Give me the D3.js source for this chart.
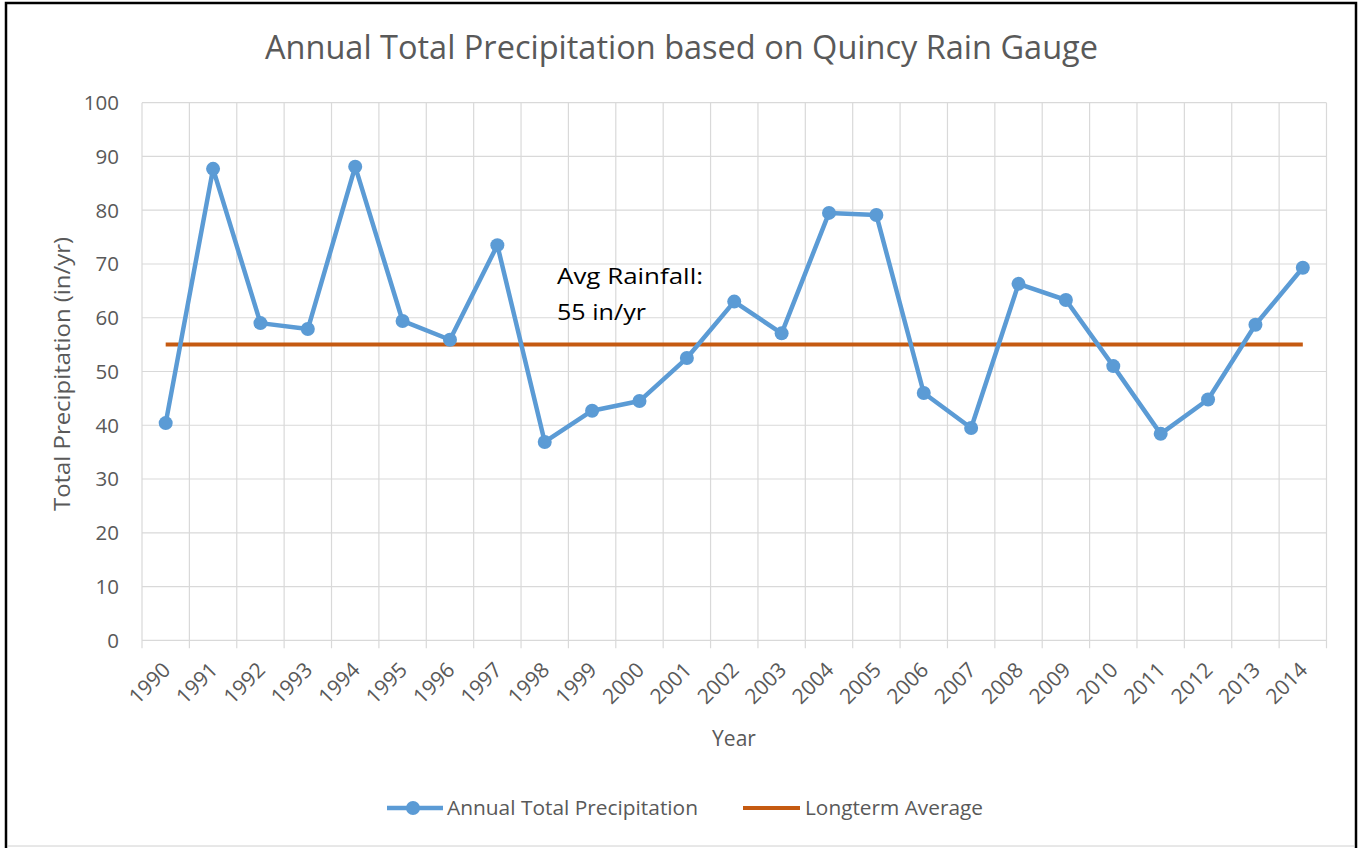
<!DOCTYPE html>
<html><head><meta charset="utf-8">
<script src="https://cdn.jsdelivr.net/npm/d3@7"></script>
<style>body{margin:0;background:#fff;}svg{display:block;font-family:"Open Sans",Lato,sans-serif;}</style>
</head><body>
<svg id="c" width="1361" height="848"></svg>
<script>
const years = ["1990","1991","1992","1993","1994","1995","1996","1997","1998","1999","2000","2001","2002","2003","2004","2005","2006","2007","2008","2009","2010","2011","2012","2013","2014"];
const precipitation = [40.4,87.7,59.0,57.9,88.1,59.4,55.9,73.5,36.9,42.7,44.5,52.5,63.0,57.1,79.5,79.1,46.0,39.5,66.3,63.3,51.0,38.4,44.8,58.7,69.3];
const longtermAverage = years.map(() => 55);
const yTicks = [0,10,20,30,40,50,60,70,80,90,100];
const title = "Annual Total Precipitation based on Quincy Rain Gauge";
const seriesNames = ["Annual Total Precipitation","Longterm Average"];

const svg = d3.select("#c");
const m = {left:142, right:1326.5, top:102.7, bottom:640.3};
const blue = "#5B9BD5", orange = "#C55A11", grid = "#D9D9D9", txt = "#595959";

svg.append("rect").attr("x",6).attr("y",3).attr("width",1350).attr("height",850)
  .attr("fill","#fff").attr("stroke","#000").attr("stroke-width",2.5);
svg.append("line").attr("x1",8).attr("x2",1354).attr("y1",846).attr("y2",846).attr("stroke","#d0d0d0").attr("stroke-width",1);

const x = d3.scaleBand().domain(years).range([m.left,m.right]).padding(0);
const y = d3.scaleLinear().domain([0,100]).range([m.bottom,m.top]);
const cx = d => x(d) + x.bandwidth()/2;

svg.append("g").selectAll("line").data(yTicks).join("line")
  .attr("x1",m.left).attr("x2",m.right).attr("y1",d=>y(d)).attr("y2",d=>y(d))
  .attr("stroke",grid).attr("stroke-width",1.2);
const bounds = years.map(d=>x(d)).concat([m.right]);
svg.append("g").selectAll("line").data(bounds).join("line")
  .attr("x1",d=>d).attr("x2",d=>d).attr("y1",m.top).attr("y2",m.bottom+8)
  .attr("stroke",grid).attr("stroke-width",1.2);

svg.append("g").selectAll("text").data(yTicks).join("text")
  .attr("x",119).attr("y",d=>y(d)).attr("dy","0.36em").attr("text-anchor","end")
  .attr("fill",txt).attr("font-size",20.5).text(d=>d);

svg.append("g").selectAll("text").data(years).join("text")
  .attr("transform",d=>`translate(${cx(d)+6},${m.bottom+31}) rotate(-45)`)
  .attr("text-anchor","end")
  .attr("fill",txt).attr("font-size",21).text(d=>d);

svg.append("text").attr("x",734).attr("y",746).attr("text-anchor","middle")
  .attr("fill",txt).attr("font-size",21).text("Year");
svg.append("text").attr("transform",`translate(70,374) rotate(-90)`).attr("text-anchor","middle")
  .attr("fill",txt).attr("font-size",21).attr("textLength",274).attr("lengthAdjust","spacingAndGlyphs")
  .text("Total Precipitation (in/yr)");

svg.append("text").attr("x",681.5).attr("y",59).attr("text-anchor","middle")
  .attr("fill",txt).attr("font-size",33).attr("textLength",833).attr("lengthAdjust","spacingAndGlyphs").text(title);

svg.append("path").datum(longtermAverage)
  .attr("d",d3.line().x((d,i)=>cx(years[i])).y(d=>y(d)))
  .attr("fill","none").attr("stroke",orange).attr("stroke-width",4);

svg.append("path").datum(precipitation)
  .attr("d",d3.line().x((d,i)=>cx(years[i])).y(d=>y(d)))
  .attr("fill","none").attr("stroke",blue).attr("stroke-width",4.5).attr("stroke-linejoin","round");
svg.append("g").selectAll("circle").data(precipitation).join("circle")
  .attr("cx",(d,i)=>cx(years[i])).attr("cy",d=>y(d)).attr("r",7).attr("fill",blue);

svg.append("text").attr("x",557).attr("y",284).attr("fill","#000").attr("font-size",21.5)
  .attr("textLength",146).attr("lengthAdjust","spacingAndGlyphs").text("Avg Rainfall:");
svg.append("text").attr("x",557).attr("y",320).attr("fill","#000").attr("font-size",21.5)
  .attr("textLength",89).attr("lengthAdjust","spacingAndGlyphs").text("55 in/yr");

const ly = 808;
svg.append("line").attr("x1",387).attr("x2",443).attr("y1",ly).attr("y2",ly).attr("stroke",blue).attr("stroke-width",4.5);
svg.append("circle").attr("cx",413).attr("cy",ly).attr("r",7).attr("fill",blue);
svg.append("text").attr("x",447).attr("y",ly).attr("dy","0.36em").attr("fill",txt).attr("font-size",20.5)
  .attr("textLength",251).attr("lengthAdjust","spacingAndGlyphs").text(seriesNames[0]);
svg.append("line").attr("x1",743).attr("x2",800).attr("y1",ly).attr("y2",ly).attr("stroke",orange).attr("stroke-width",4);
svg.append("text").attr("x",805).attr("y",ly).attr("dy","0.36em").attr("fill",txt).attr("font-size",20.5)
  .attr("textLength",178).attr("lengthAdjust","spacingAndGlyphs").text(seriesNames[1]);
</script>
</body></html>
